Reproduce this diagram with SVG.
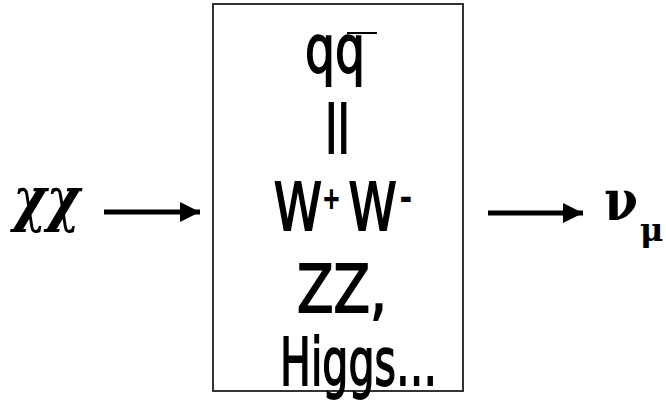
<svg xmlns="http://www.w3.org/2000/svg" width="666" height="409" viewBox="0 0 666 409">
<style>
.box{fill:#fff;stroke:#333;stroke-width:2}
.t{font-family:"DejaVu Sans","Liberation Sans",sans-serif;font-size:66px;fill:#000;stroke:#000;stroke-width:1.8}
.g{font-family:"DejaVu Serif","Liberation Serif",serif;fill:#000}
.sup{font-size:28px}
.conn{stroke:#000;stroke-width:5;fill:none}
</style>
<defs>
<marker id="ah" viewBox="0 0 10 10" refX="10" refY="5" markerWidth="4" markerHeight="4.4" orient="auto" markerUnits="strokeWidth">
<path d="M0,0 L10,5 L0,10 z" fill="#000"/>
</marker>
</defs>
<rect x="0" y="0" width="666" height="409" fill="#fff"/>
<g id="chichi">
<text class="g" x="13" y="220" font-size="60" font-style="italic" font-weight="bold" textLength="67" lengthAdjust="spacingAndGlyphs">χχ</text>
</g>
<g id="box">
<rect class="box" x="213" y="4" width="250" height="387"/>
<text class="t" x="305" y="72" textLength="60" lengthAdjust="spacingAndGlyphs">qq</text>
<line x1="347" y1="33" x2="377" y2="33" stroke="#000" stroke-width="2"/>
<text class="t" x="325" y="153" textLength="25" lengthAdjust="spacingAndGlyphs">ll</text>
<text class="t" transform="scale(0.74,1)" y="230"><tspan x="370">W</tspan><tspan class="sup" x="436" y="208">+</tspan><tspan x="471" y="230">W</tspan><tspan x="541" y="211" font-size="42">-</tspan></text>
<text class="t" x="297" y="312" textLength="90" lengthAdjust="spacingAndGlyphs">ZZ,</text>
<text class="t" x="280" y="385" textLength="157" lengthAdjust="spacingAndGlyphs">Higgs…</text>
</g>
<g id="numu">
<text class="g" x="604" y="220" font-size="56" font-weight="bold" textLength="34" lengthAdjust="spacingAndGlyphs">ν</text>
<text class="g" x="640" y="241" font-size="32" font-weight="bold">μ</text>
</g>
<g id="connectors">
<line class="conn" x1="104" y1="212" x2="200" y2="212" marker-end="url(#ah)"/>
<line class="conn" x1="488" y1="213" x2="583" y2="213" marker-end="url(#ah)"/>
</g>
</svg>
